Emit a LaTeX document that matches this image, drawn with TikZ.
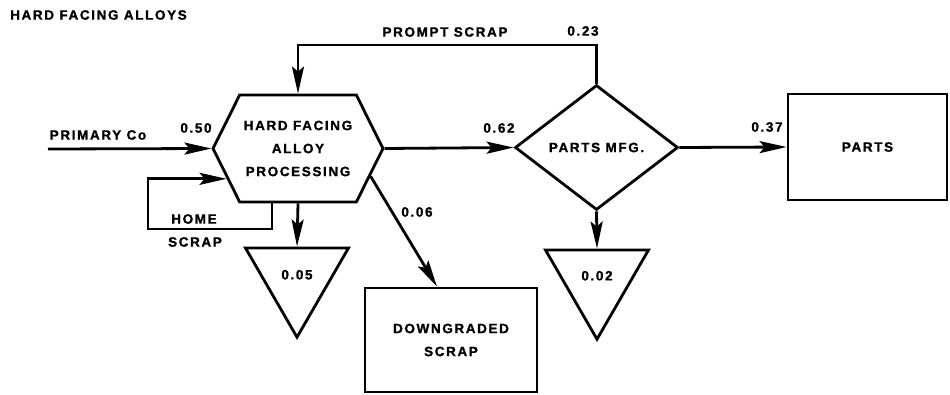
\documentclass[tikz,border=0pt]{standalone}
\usepackage{fontspec}
\setmainfont{Liberation Sans}[LetterSpace=12, BoldFeatures={FakeBold=1.2}]
\usetikzlibrary{arrows.meta,shapes.geometric,shapes.symbols,calc}
\begin{document}
\begin{tikzpicture}[x=1pt,y=-1pt,
  line/.style={line width=2.8pt},
  flow/.style={line, -{Stealth[length=27pt,width=12pt,inset=5pt]}},
  txt/.style={font=\fontsize{13.5}{23}\selectfont\bfseries, inner sep=0pt, align=center},
  shapebox/.style={draw, line width=2.8pt, inner sep=0pt, txt},
  sink/.style={shapebox, regular polygon, regular polygon sides=3,
               shape border rotate=180, minimum size=119pt}]
\useasboundingbox (0,0) rectangle (950,395);

% title
\node[txt, anchor=west] (title) at (10,15) {HARD FACING ALLOYS};

% process nodes
\node[shapebox, signal, signal to=west and east, signal pointer angle=127,
      minimum width=170pt, minimum height=107pt] (hex) at (298,148.5)
      {HARD FACING\\ALLOY\\PROCESSING};
\node[shapebox, diamond, minimum width=163pt, minimum height=125pt] (mfg) at (596.5,147.5) {PARTS MFG.};
\node[shapebox, rectangle, minimum width=159pt, minimum height=106pt] (parts) at (867.5,147) {PARTS};
\node[shapebox, rectangle, minimum width=172pt, minimum height=104pt] (dg) at (451,340) {DOWNGRADED\\SCRAP};

% losses
\node[sink] (loss1) at (297,277.7) {\raisebox{6pt}{0.05}};
\node[sink] (loss2) at (597,279.7) {\raisebox{8pt}{0.02}};

% turning points
\coordinate (pc) at (48,149);
\coordinate (hsturn) at (148,229);
\coordinate (psturn) at (298,45);

% connectors
\draw[flow] (pc) -- (hex.west);
\draw[flow] ([xshift=-26pt]hex.south) |- (hsturn) |- (hex.203);
\draw[flow] (hex.south) -- (loss1.north);
\draw[flow] (hex.-21.6) -- ($(dg.north west)!0.42!(dg.north east)$);
\draw[flow] (hex.east) -- (mfg.west);
\draw[flow] (mfg.north) |- (psturn) -- (hex.north);
\draw[flow] (mfg.south) -- (loss2.north);
\draw[flow] (mfg.east) -- (parts.west);

% flow labels
\node[txt] (lprim) at (98,135) {PRIMARY Co};
\node[txt] (l050) at (196,128) {0.50};
\node[txt] (lhome) at (194,219) {HOME};
\node[txt] (lscrap) at (195,242) {SCRAP};
\node[txt] (l006) at (417,212) {0.06};
\node[txt] (l062) at (499,128) {0.62};
\node[txt] (lprompt) at (445,32) {PROMPT SCRAP};
\node[txt] (l023) at (583,31) {0.23};
\node[txt] (l037) at (767,127) {0.37};
\end{tikzpicture}
\end{document}
